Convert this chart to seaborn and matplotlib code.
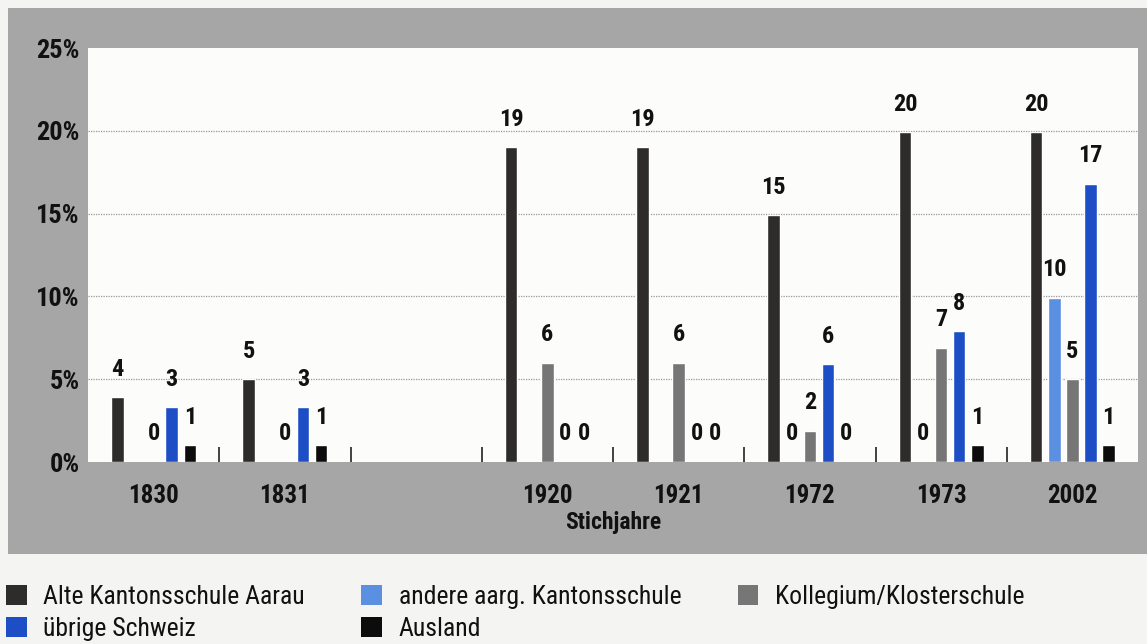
import numpy as np
import pandas as pd
import matplotlib
matplotlib.use("Agg")
import matplotlib.pyplot as plt
from matplotlib.patches import Rectangle, Patch
from matplotlib import font_manager
import seaborn as sns

# ---- data ----
years = ["1830", "1831", "", "1920", "1921", "1972", "1973", "2002"]
series = ["Alte Kantonsschule Aarau", "andere aarg. Kantonsschule",
          "Kollegium/Klosterschule", "übrige Schweiz", "Ausland"]
alte = [3.9, 5.0, np.nan, 19.0, 19.0, 14.9, 19.9, 19.9]
andere = [np.nan, np.nan, np.nan, np.nan, np.nan, 0.0, 0.0, 9.9]
kollegium = [0.0, 0.0, np.nan, 6.0, 6.0, 1.9, 6.9, 5.0]
uebrige = [3.3, 3.3, np.nan, 0.0, 0.0, 5.9, 7.9, 16.8]
ausland = [1.0, 1.0, np.nan, 0.0, 0.0, 0.0, 1.0, 1.0]
y_ticks = [0, 5, 10, 15, 20, 25]

colors = ["#2e2b2b", "#5b8fe2", "#767676", "#1e4ec6", "#0c0c0c"]

df = pd.DataFrame({
    "Jahr": years * 5,
    "Serie": sum([[s] * len(years) for s in series], []),
    "Wert": alte + andere + kollegium + uebrige + ausland,
}).dropna()

# ---- font ----
avail = {f.name for f in font_manager.fontManager.ttflist}
fam = "DejaVu Sans"
for cand in ["Liberation Sans Narrow", "Roboto Condensed", "Open Sans Condensed",
             "Noto Sans Condensed", "DejaVu Sans Condensed"]:
    if cand in avail:
        fam = cand
        break

sns.set_theme(style="white")
plt.rcParams["font.family"] = [fam, "DejaVu Sans"]

W, H = 1147, 644
fig = plt.figure(figsize=(W / 100, H / 100), dpi=100)
fig.patch.set_facecolor("#f4f4f2")
fig.patches.append(Rectangle((8 / W, 1 - 554 / H), 1 - 8 / W, (554 - 8) / H,
                             transform=fig.transFigure, facecolor="#a6a6a6",
                             edgecolor="none", zorder=-10))

ax = fig.add_axes([88 / W, 1 - 462 / H, (1138 - 88) / W, (462 - 48) / H])
ax.set_zorder(1)
ax.set_facecolor("#fcfcfa")

sns.barplot(data=df, x="Jahr", y="Wert", hue="Serie", order=years,
            hue_order=series, palette=colors, width=0.69, gap=0.31,
            errorbar=None, legend=False, ax=ax, saturation=1, zorder=3)

for cont in ax.containers:
    ax.bar_label(cont, fmt="{:.0f}", padding=12, fontsize=17.5,
                 fontweight="bold", color="#111111")

ax.set_ylim(0, 25)
ax.set_xlim(-0.5, len(years) - 0.5)
ax.set_yticks(y_ticks)
ax.set_yticklabels([f"{t}%" for t in y_ticks], fontsize=19, fontweight="bold",
                   color="#111111")
ax.set_xticks(range(len(years)))
ax.set_xticklabels(years, fontsize=18, fontweight="bold", color="#111111")
ax.set_xticks(np.arange(0.5, len(years) - 1, 1.0), minor=True)
ax.tick_params(axis="x", which="major", length=0, pad=16)
ax.tick_params(axis="x", which="minor", direction="in", length=11, width=1.3,
               color="#333333", bottom=True)
ax.tick_params(axis="y", length=0, pad=6)
for s in ax.spines.values():
    s.set_visible(False)
for g in [5, 10, 15, 20]:
    ax.axhline(g, color="#999999", lw=0.9, ls=(0, (1, 1)), zorder=1)
ax.set_xlabel("Stichjahre", fontsize=17, fontweight="bold", color="#111111",
              labelpad=2)
ax.set_ylabel("")

# legend (row-wise order via column-major filling)
order = [0, 3, 1, 4, 2]
handles = [Patch(facecolor=colors[i], edgecolor="none") for i in order]
labels = [series[i] for i in order]
fig.legend(handles, labels, loc="upper left", bbox_to_anchor=(6 / W, 1 - 585 / H),
           ncol=3, frameon=False, handlelength=0.8, handleheight=0.8,
           handletextpad=0.65, columnspacing=2.2, labelspacing=0.3, borderpad=0,
           borderaxespad=0, labelcolor="#111111",
           prop={"family": fam, "size": 18.5})

fig.savefig("out.png", dpi=100, facecolor=fig.get_facecolor())
